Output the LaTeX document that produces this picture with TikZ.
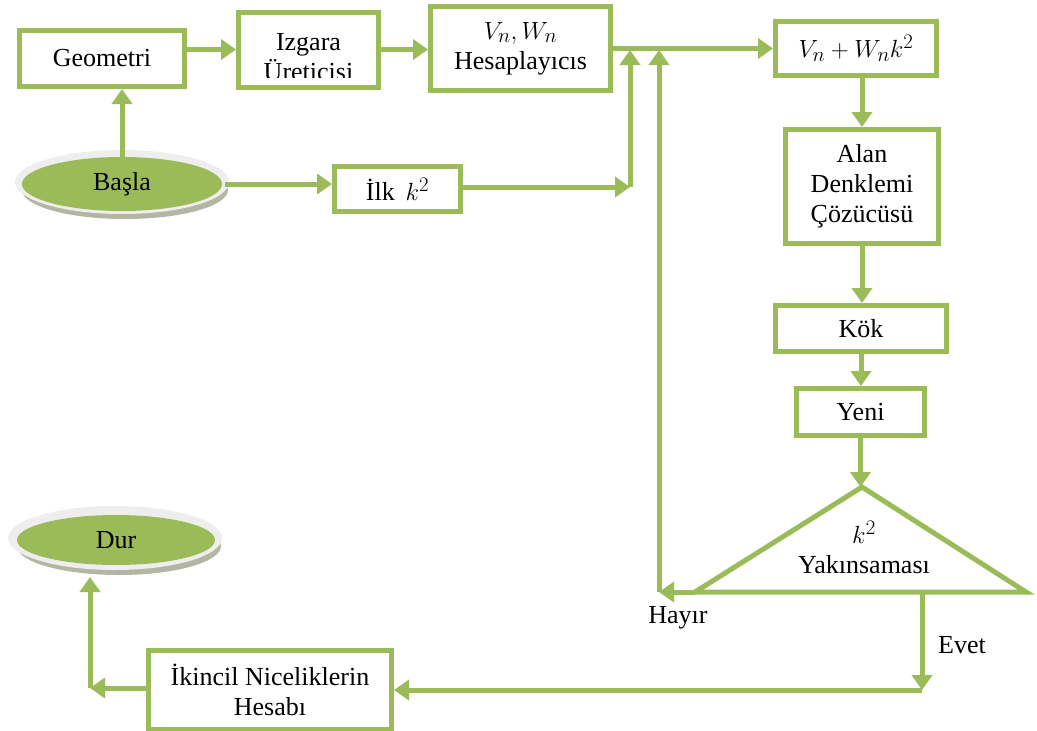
\documentclass[tikz,border=0pt]{standalone}
\usepackage{fontspec}
\setmainfont{Liberation Serif}
\usetikzlibrary{arrows.meta,calc}
\definecolor{og}{HTML}{9BBB59}
\definecolor{shd}{HTML}{B4B6A4}
\definecolor{halo}{HTML}{EEEEEE}
\newcommand{\bm}[1]{{\fontsize{30}{30}\selectfont$#1$}}
\begin{document}
\begin{tikzpicture}[x=1pt,y=-1pt,
  txt/.style={font=\fontsize{26}{30}\selectfont,align=center,inner sep=0pt},
  box/.style={txt,draw=og,line width=5pt,fill=white},
  arr/.style={draw=og,line width=5pt,-{Triangle[length=15pt,width=20pt]}},
  ln/.style={draw=og,line width=5pt}]
\useasboundingbox (0,0) rectangle (1037,731);

% terminals with shadow/halo
\fill[shd] (125,190) ellipse [x radius=103, y radius=29];
\fill[halo] (122,182) ellipse [x radius=107, y radius=32];
\fill[og] (122,184) ellipse [x radius=100, y radius=27];
\node[txt] (basla) at (122,184) {Başla};
\path (122,184) ++(0,-27) coordinate (baslaN);
\path (122,184) ++(103,0) coordinate (baslaE);

\fill[shd] (119,546) ellipse [x radius=102, y radius=29];
\fill[halo] (115,538) ellipse [x radius=107, y radius=32];
\fill[og] (116,540) ellipse [x radius=99, y radius=25];
\node[txt] (dur) at (116,540) {Dur};

% boxes
\node[box,minimum width=165pt,minimum height=56pt] (geo) at (102,58.5) {Geometri};
\node[box,minimum width=140pt,minimum height=75pt] (izg) at (308.5,49.5) {};
\begin{scope}
  \clip ($(izg.north west)+(2.5,2.5)$) rectangle (378,77.5);
  \node[txt] (izgt) at (308.5,57) {Izgara\\Üreticisi};
\end{scope}
\node[box,minimum width=180pt,minimum height=84pt] (vw) at (520.5,48.5) {\bm{V_n, W_n}\\Hesaplayıcıs};
\node[box,minimum width=161pt,minimum height=54pt] (vwk) at (856,48.5) {\bm{V_n + W_n k^2}};
\node[box,minimum width=153pt,minimum height=114pt] (alan) at (862,186.5) {Alan\\Denklemi\\Çözücüsü};
\node[box,minimum width=126pt,minimum height=45pt] (ilk) at (397.5,189) {İlk \bm{\,k^2}};
\node[box,minimum width=171pt,minimum height=46pt] (kok) at (861,328.5) {Kök};
\node[box,minimum width=128pt,minimum height=47pt] (yeni) at (860.5,412) {Yeni};
\node[box,minimum width=243pt,minimum height=79pt] (ikin) at (270,690) {İkincil Niceliklerin\\Hesabı};

% decision triangle
\coordinate (ta) at (862,487);
\coordinate (tl) at (695,592);
\coordinate (tr) at (1026,592);
\draw[ln,fill=white] (ta) -- (tr) -- (tl) -- cycle;
\node[txt] (tri) at (864,547) {\bm{k^2}\\Yakınsaması};

% junction coordinates
\coordinate (j1) at (630,187);
\coordinate (j1t) at (630,50);
\coordinate (hc) at (659,592);
\coordinate (hct) at (659,50);
\coordinate (ev) at (922,592);
\coordinate (ec) at (922,690);
\coordinate (dc) at (90,688);
\coordinate (dt) at (90,577);

% connectors
\draw[arr] (baslaN) -- (baslaN |- geo.south);
\draw[arr] (geo.east |- izg.west) -- (izg.west);
\draw[arr] (izg.east) -- (izg.east -| vw.west);
\draw[arr] (vw.east |- vwk.west) -- (vwk.west);
\draw[arr] (baslaE |- basla) -- (ilk.west |- basla);
\draw[arr] (ilk.east |- j1) -- (j1);
\draw[arr] (j1) -- (j1t);
\draw[arr] (alan.north |- vwk.south) -- (alan.north);
\draw[arr] (alan.south) -- (alan.south |- kok.north);
\draw[arr] (kok.south) -- (kok.south |- yeni.north);
\draw[arr] (yeni.south) -- (yeni.south |- ta);
\draw[arr] (tl) -- (hc);
\draw[arr] (hc) -- (hct);
\draw[arr] (ev) -- (ec);
\draw[arr] (ec) -- (ec -| ikin.east);
\draw[arr] (ikin.west |- dc) -- (dc);
\draw[arr] (dc) -- (dt);

% labels
\node[txt] (hayir) at (678,618) {Hayır};
\node[txt] (evet) at (962,645) {Evet};
\end{tikzpicture}
\end{document}
